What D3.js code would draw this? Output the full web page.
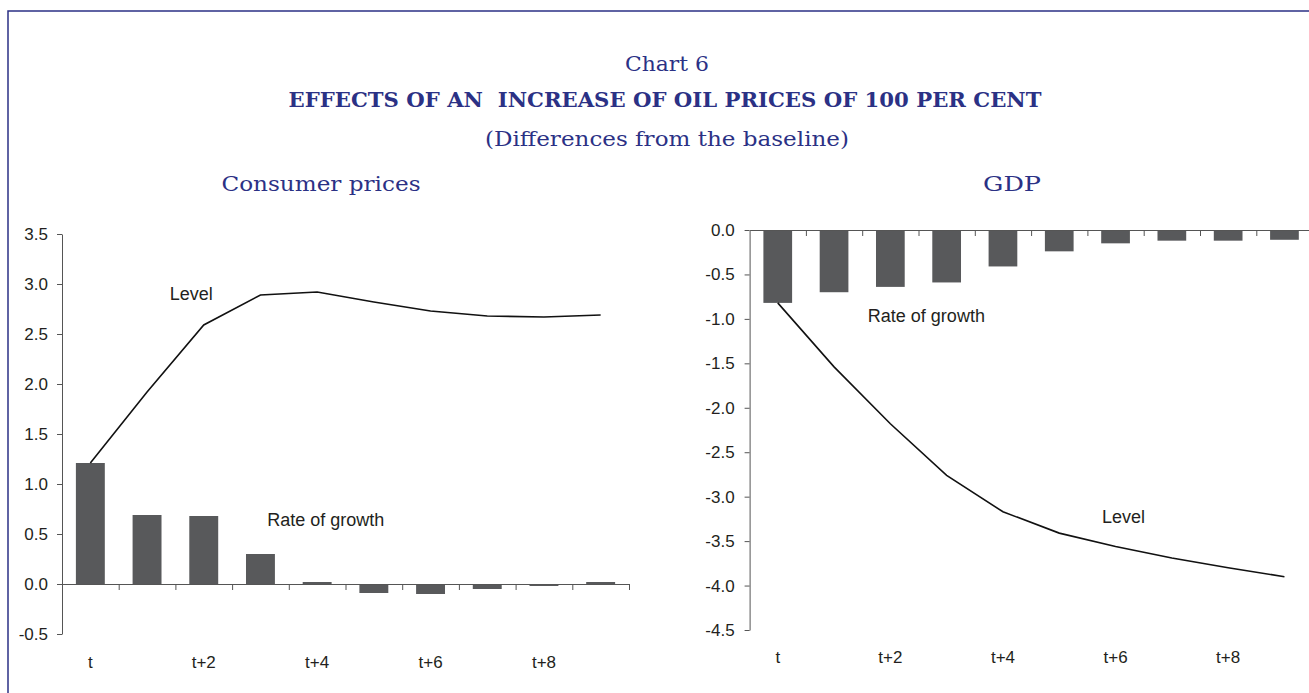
<!DOCTYPE html>
<html>
<head>
<meta charset="utf-8">
<script src="https://cdn.jsdelivr.net/npm/d3@7"></script>
<style>
  body { margin: 0; background: #fff; }
  svg { display: block; }
  .tick text { font-family: "Liberation Sans", Arial, sans-serif; font-size: 17px; fill: #231f20; }
  .axis path, .axis line { stroke: #555; stroke-width: 1; }
  .note { font-family: "Liberation Sans", Arial, sans-serif; font-size: 18px; fill: #231f20; }
  .ttl { font-family: "DejaVu Serif", serif; fill: #2b3185; text-anchor: middle; white-space: pre; }
</style>
</head>
<body>
<div id="chart"></div>
<script>
// Data
var categories = ["t", "t+1", "t+2", "t+3", "t+4", "t+5", "t+6", "t+7", "t+8", "t+9"];
var cpGrowth = [1.21, 0.69, 0.68, 0.30, 0.02, -0.09, -0.10, -0.05, -0.02, 0.02];
var cpLevel = [1.21, 1.92, 2.59, 2.89, 2.92, 2.82, 2.73, 2.68, 2.67, 2.69];
var gdpGrowth = [-0.82, -0.70, -0.64, -0.59, -0.41, -0.24, -0.15, -0.12, -0.12, -0.11];
var gdpLevel = [-0.82, -1.54, -2.18, -2.76, -3.17, -3.41, -3.56, -3.69, -3.80, -3.90];
var cpTicks = [-0.5, 0, 0.5, 1, 1.5, 2, 2.5, 3, 3.5];
var gdpTicks = [0, -0.5, -1, -1.5, -2, -2.5, -3, -3.5, -4, -4.5];

var svgWidth = 1309;
var svgHeight = 693;

var svg = d3.select("#chart")
  .append("svg")
  .attr("width", svgWidth)
  .attr("height", svgHeight);

// Frame
svg.append("rect")
  .attr("x", 8).attr("y", 11)
  .attr("width", 1320).attr("height", 700)
  .attr("fill", "none")
  .attr("stroke", "#2b3185")
  .attr("stroke-width", 1.5);

// Titles
function title(txt, x, y, size, len, bold) {
  svg.append("text")
    .attr("class", "ttl")
    .attr("x", x).attr("y", y)
    .attr("font-size", size)
    .attr("font-weight", bold ? "bold" : "normal")
    .attr("textLength", len)
    .attr("lengthAdjust", "spacingAndGlyphs")
    .text(txt);
}
title("Chart 6", 667, 71, 20, 84, false);
title("EFFECTS OF AN  INCREASE OF OIL PRICES OF 100 PER CENT", 665, 107, 20, 753, true);
title("(Differences from the baseline)", 667, 146, 20, 364, false);
title("Consumer prices", 321, 191, 20, 199, false);
title("GDP", 1012, 191, 20, 58, false);

// plain hyphen for negatives, like the original
var fmt = d => d3.format(".1f")(d).replace("\u2212", "-");

function drawPanel(opt) {
  var x = d3.scaleBand()
    .domain(categories)
    .range([opt.left, opt.right])
    .paddingInner(0.49)
    .paddingOuter(0.245);

  // index scale for band boundaries / annotations
  var xi = d3.scaleLinear().domain([0, categories.length]).range([opt.left, opt.right]);

  var y = d3.scaleLinear().domain(opt.domain).range([opt.bottom, opt.top]);

  // bars
  svg.append("g").selectAll("rect")
    .data(opt.growth)
    .enter()
    .append("rect")
    .attr("x", (d, i) => x(categories[i]))
    .attr("width", x.bandwidth())
    .attr("y", d => y(Math.max(0, d)))
    .attr("height", d => Math.abs(y(d) - y(0)))
    .attr("fill", "#58595b");

  // y axis
  svg.append("g")
    .attr("class", "axis")
    .attr("transform", `translate(${opt.left}, 0)`)
    .call(d3.axisLeft(y).tickValues(opt.ticks).tickFormat(fmt)
      .tickSize(5).tickSizeOuter(0).tickPadding(opt.pad));

  // x axis at zero with category boundary ticks
  svg.append("g")
    .attr("class", "axis")
    .attr("transform", `translate(0, ${y(0)})`)
    .call(d3.axisBottom(xi).tickValues(d3.range(1, categories.length + 1))
      .tickFormat("").tickSize(6).tickSizeOuter(0));

  // category labels under the plot
  var lab = svg.append("g")
    .attr("class", "axis")
    .attr("transform", `translate(0, ${opt.bottom})`)
    .call(d3.axisBottom(x).tickSize(0).tickPadding(opt.labPad)
      .tickFormat((d, i) => i % 2 === 0 ? d : ""));
  lab.select(".domain").remove();

  // level line
  var line = d3.line()
    .x((d, i) => x(categories[i]) + x.bandwidth() / 2)
    .y(d => y(d));
  svg.append("path")
    .datum(opt.level)
    .attr("d", line)
    .attr("fill", "none")
    .attr("stroke", "#111")
    .attr("stroke-width", 1.6);

  // annotations
  opt.notes.forEach(function(n) {
    svg.append("text")
      .attr("class", "note")
      .attr("x", xi(n.i))
      .attr("y", y(n.v))
      .text(n.text);
  });
}

drawPanel({
  left: 62, right: 629, top: 234, bottom: 634,
  domain: [-0.5, 3.5], ticks: cpTicks, pad: 9, labPad: 22,
  growth: cpGrowth, level: cpLevel,
  notes: [{ text: "Level", i: 1.9, v: 2.84 }, { text: "Rate of growth", i: 3.62, v: 0.585 }]
});

drawPanel({
  left: 749.6, right: 1312.6, top: 230, bottom: 630,
  domain: [-4.5, 0], ticks: gdpTicks, pad: 10, labPad: 21,
  growth: gdpGrowth, level: gdpLevel,
  notes: [{ text: "Rate of growth", i: 2.1, v: -1.035 }, { text: "Level", i: 6.26, v: -3.30 }]
});
</script>
</body>
</html>
